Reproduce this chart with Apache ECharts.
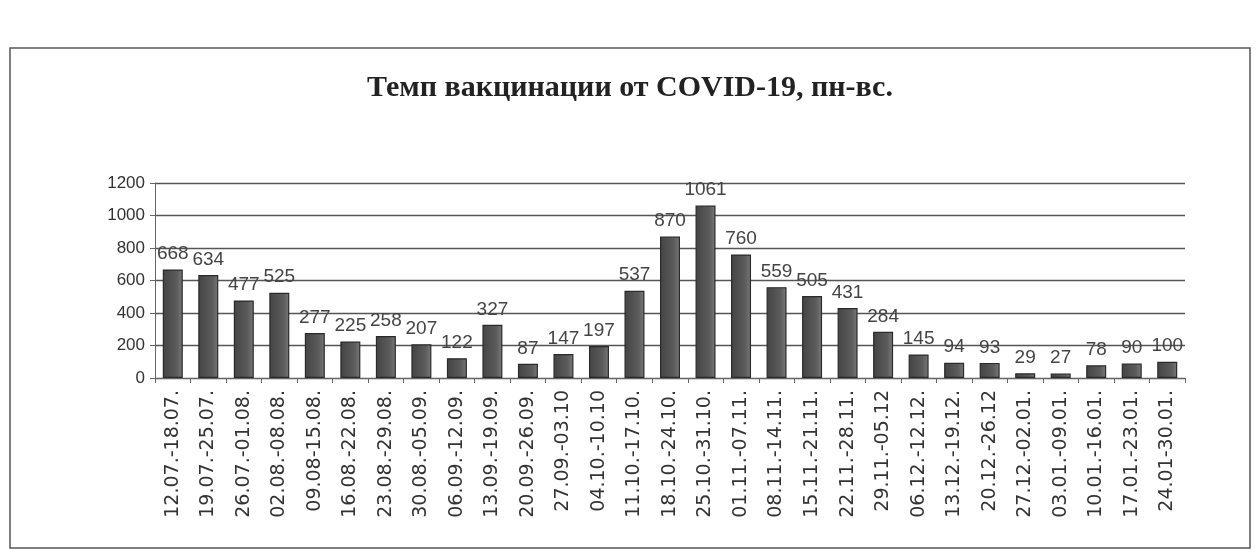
<!DOCTYPE html>
<html>
<head>
<meta charset="utf-8">
<script src="https://cdn.jsdelivr.net/npm/echarts@6/dist/echarts.min.js"></script>
<style>
  html, body { margin: 0; padding: 0; background: #fff; }
  #chart { width: 1260px; height: 560px; }
</style>
</head>
<body>
<div id="chart"></div>
<script>
// недели (пн-вс)
var weeks = ['12.07.-18.07.', '19.07.-25.07.', '26.07.-01.08.', '02.08.-08.08.', '09.08-15.08.',
  '16.08.-22.08.', '23.08.-29.08.', '30.08.-05.09.', '06.09.-12.09.', '13.09.-19.09.',
  '20.09.-26.09.', '27.09.-03.10', '04.10.-10.10', '11.10.-17.10.', '18.10.-24.10.',
  '25.10.-31.10.', '01.11.-07.11.', '08.11.-14.11.', '15.11.-21.11.', '22.11.-28.11.',
  '29.11.-05.12', '06.12.-12.12.', '13.12.-19.12.', '20.12.-26.12', '27.12.-02.01.',
  '03.01.-09.01.', '10.01.-16.01.', '17.01.-23.01.', '24.01-30.01.'];
var vaccinated = [668, 634, 477, 525, 277, 225, 258, 207, 122, 327, 87, 147, 197, 537, 870,
  1061, 760, 559, 505, 431, 284, 145, 94, 93, 29, 27, 78, 90, 100];
var yTicks = [0, 200, 400, 600, 800, 1000, 1200];

var myChart = echarts.init(document.getElementById('chart'));
var option = {
  backgroundColor: '#fff',
  animation: false,
  title: {
    text: 'Темп вакцинации от COVID-19, пн-вс.',
    left: 'center',
    top: 68,
    textStyle: { fontFamily: 'Liberation Serif', fontWeight: 'bold', fontSize: 30, color: '#222' }
  },
  graphic: [{
    type: 'rect',
    shape: { x: 10, y: 48, width: 1240, height: 500 },
    style: { fill: 'none', stroke: '#555', lineWidth: 1.5 }
  }],
  grid: { left: 155, right: 75, top: 183, bottom: 182 },
  xAxis: {
    type: 'category',
    data: weeks,
    axisLine: { lineStyle: { color: '#666' } },
    axisTick: { show: true, lineStyle: { color: '#666' } },
    axisLabel: {
      rotate: 90, interval: 0, margin: 12,
      fontFamily: 'DejaVu Sans', fontSize: 19, color: '#333'
    }
  },
  yAxis: {
    type: 'value',
    min: yTicks[0],
    max: yTicks[yTicks.length - 1],
    interval: 200,
    axisLine: { show: true, lineStyle: { color: '#666' } },
    axisTick: { show: true, lineStyle: { color: '#666' } },
    axisLabel: {
      fontFamily: 'Liberation Sans', fontSize: 17, color: '#333', margin: 10,
      formatter: function (v) { return String(v); }
    },
    splitLine: { lineStyle: { color: '#555', width: 1.3 } }
  },
  series: [{
    type: 'bar',
    data: vaccinated,
    barWidth: 20,
    itemStyle: {
      color: new echarts.graphic.LinearGradient(0, 0, 1, 0, [
        { offset: 0, color: '#444' },
        { offset: 0.7, color: '#5c5c5c' },
        { offset: 1, color: '#7a7a7a' }
      ]),
      borderColor: '#2a2a2a', borderWidth: 1.2
    },
    label: {
      show: true, position: 'top', distance: 6,
      fontFamily: 'Liberation Sans', fontSize: 19, color: '#444'
    }
  }]
};
myChart.setOption(option);
</script>
</body>
</html>
